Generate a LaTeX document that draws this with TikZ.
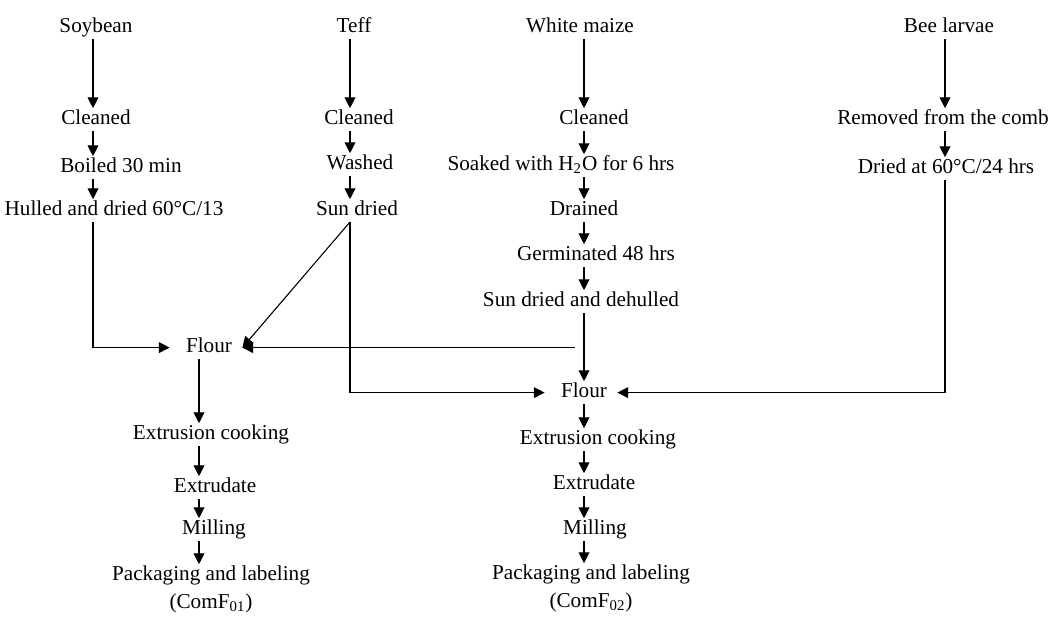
\documentclass[tikz,border=0pt]{standalone}
\usepackage{fontspec}
\setmainfont{Liberation Serif}
\usetikzlibrary{arrows.meta, positioning}

\begin{document}
\begin{tikzpicture}
  [x=0.5pt, y=-0.5pt,
  stage/.style={inner sep=1pt, text height=7pt, text depth=2pt, yshift=-1.3pt, font=\fontsize{10.6}{12}\selectfont},
  flour/.style={stage, inner xsep=5pt},
  flow/.style={-{Triangle[width=5.4pt,length=5.4pt]}, line width=0.55pt}]

\useasboundingbox (0,0) rectangle (1054,616);

% Column lines
\coordinate (cs) at (93,0);
\coordinate (ct) at (350,0);
\coordinate (cm) at (584,0);
\coordinate (cb) at (945,0);
\coordinate (cf) at (199,0);
\coordinate (mzx) at (575,0);

% Nodes for soybean
\node[stage] (soy) at (96,25) {Soybean};
\node[stage] (soy1) at (96,117) {Cleaned};
\node[stage] (soy2) at (121,165) {Boiled 30 min};
\node[stage] (soy3) at (114,208) {Hulled and dried 60°C/13};

% Nodes for teff
\node[stage] (teff) at (354,25) {Teff};
\node[stage] (teff1) at (359,117) {Cleaned};
\node[stage] (teff2) at (360,162) {Washed};
\node[stage] (teff3) at (357,208) {Sun dried};

% Nodes for white maize
\node[stage] (mz) at (580,25) {White maize};
\node[stage] (mz1) at (594,117) {Cleaned};
\node[stage] (mz2) at (561,163) {Soaked with H\textsubscript{2}O for 6 hrs};
\node[stage] (mz3) at (584,208) {Drained};
\node[stage] (mz4) at (596,253) {Germinated 48 hrs};
\node[stage] (mz5) at (581,299) {Sun dried and dehulled};

% Nodes for bee larvae
\node[stage] (bee) at (949,25) {Bee larvae};
\node[stage] (bee1) at (943,117) {Removed from the comb};
\node[stage] (bee2) at (946,166) {Dried at 60°C/24 hrs};

% Flour and products
\node[flour] (fl1) at (209,345) {Flour};
\node[stage] (ex1) at (211,432) {Extrusion cooking};
\node[stage] (ed1) at (215,485) {Extrudate};
\node[stage] (mi1) at (214,527) {Milling};
\node[stage] (pk1) at (211,573) {Packaging and labeling};
\node[stage] (id1) at (211,601) {(ComF\textsubscript{01})};

\node[flour] (fl2) at (584,390) {Flour};
\node[stage] (ex2) at (598,437) {Extrusion cooking};
\node[stage] (ed2) at (594,482) {Extrudate};
\node[stage] (mi2) at (595,527) {Milling};
\node[stage] (pk2) at (591,572) {Packaging and labeling};
\node[stage] (id2) at (591,600) {(ComF\textsubscript{02})};

% Arrows down each column
\draw[flow] (soy.south -| cs) -- (soy1.north -| cs);
\draw[flow] (soy1.south -| cs) -- (soy2.north -| cs);
\draw[flow] (soy2.south -| cs) -- (soy3.north -| cs);
\draw[flow] (teff.south -| ct) -- (teff1.north -| ct);
\draw[flow] (teff1.south -| ct) -- (teff2.north -| ct);
\draw[flow] (teff2.south -| ct) -- (teff3.north -| ct);
\draw[flow] (mz.south -| cm) -- (mz1.north -| cm);
\draw[flow] (mz1.south -| cm) -- (mz2.north -| cm);
\draw[flow] (mz2.south -| cm) -- (mz3.north -| cm);
\draw[flow] (mz3.south -| cm) -- (mz4.north -| cm);
\draw[flow] (mz4.south -| cm) -- (mz5.north -| cm);
\draw[flow] (bee.south -| cb) -- (bee1.north -| cb);
\draw[flow] (bee1.south -| cb) -- (bee2.north -| cb);

% Arrows into the flours
\draw[flow, shorten >=3pt] (soy3.south -| cs) |- (fl1.west);
\draw[flow] (teff3.south -| ct) -- (fl1.east);
\draw[flow] (mzx |- fl1.east) -- (fl1.east);
\draw[flow, shorten >=3pt] (teff3.south -| ct) |- (fl2.west);
\draw[flow] (mz5.south -| cm) -- (fl2.north);
\draw[flow] (bee2.south -| cb) |- (fl2.east);

% Arrows down to the products
\draw[flow] (fl1.south -| cf) -- (ex1.north -| cf);
\draw[flow] (ex1.south -| cf) -- (ed1.north -| cf);
\draw[flow] (ed1.south -| cf) -- (mi1.north -| cf);
\draw[flow] (mi1.south -| cf) -- (pk1.north -| cf);
\draw[flow] (fl2.south -| cm) -- (ex2.north -| cm);
\draw[flow] (ex2.south -| cm) -- (ed2.north -| cm);
\draw[flow] (ed2.south -| cm) -- (mi2.north -| cm);
\draw[flow] (mi2.south -| cm) -- (pk2.north -| cm);

\end{tikzpicture}
\end{document}
